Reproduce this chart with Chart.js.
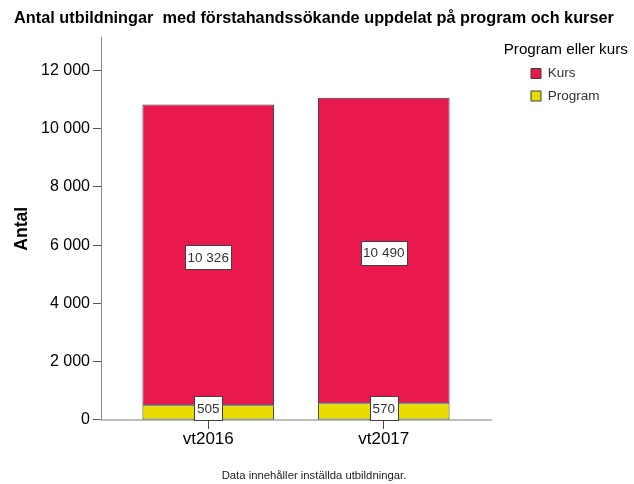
<!DOCTYPE html>
<html><head><meta charset="utf-8">
<script src="https://cdn.jsdelivr.net/npm/chart.js@4.4.1/dist/chart.umd.min.js"></script>
<style>html,body{margin:0;padding:0;background:#fff;} #wrap{width:634px;height:484px;}</style>
</head><body><div id="wrap"><canvas id="c" width="634" height="484"></canvas></div>
<script>
const categories = ['vt2016', 'vt2017'];
const kurs = [10326, 10490];
const program = [505, 570];
const yTicks = [0, 2000, 4000, 6000, 8000, 10000, 12000];
const seriesNames = ['Kurs', 'Program'];
const chartTitle = 'Antal utbildningar  med förstahandssökande uppdelat på program och kurser';
const legendTitle = 'Program eller kurs';
const yTitle = 'Antal';
const footnote = 'Data innehåller inställda utbildningar.';

const fmt = v => String(v).replace(/\B(?=(\d{3})+(?!\d))/g, ' ');
const FONT = "'Liberation Sans', Arial, sans-serif";
Chart.defaults.font.family = FONT;
Chart.defaults.color = '#000';

const legendPlace = {
  id: 'legendPlace',
  afterLayout(chart) {
    const lg = chart.legend, a = chart.chartArea;
    lg.left = a.right + 31;
    lg.right = lg.left + lg.width;
    lg.top = a.top;
    if (!lg.__noclip) {
      // draw without clipping so the (wider) legend title is not cut off
      lg.draw = function () { if (this.options.display) this._draw(); };
      lg.__noclip = true;
    }
  }
};

const valueLabels = {
  id: 'valueLabels',
  afterDatasetsDraw(chart) {
    const ctx = chart.ctx, bottom = chart.chartArea.bottom;
    ctx.save();
    ctx.font = "13.5px " + FONT;
    ctx.textAlign = 'center';
    ctx.textBaseline = 'middle';
    chart.data.datasets.forEach((ds, di) => {
      const meta = chart.getDatasetMeta(di);
      meta.data.forEach((el, i) => {
        const txt = fmt(ds.data[i].y);
        const w = Math.round(ctx.measureText(txt).width + 5), h = 24;
        let cy = (el.y + el.base) / 2 + 2;
        if (cy + h / 2 > bottom) cy = bottom - h / 2;
        const x0 = Math.round(el.x - w / 2) + 0.5, y0 = Math.round(cy - h / 2) + 0.5;
        ctx.fillStyle = '#fff';
        ctx.fillRect(x0, y0, w, h);
        ctx.strokeStyle = '#404040';
        ctx.lineWidth = 1;
        ctx.strokeRect(x0, y0, w, h);
        ctx.fillStyle = '#333';
        ctx.fillText(txt, el.x, cy + 1);
      });
    });
    ctx.restore();
  }
};

const barCommon = { borderColor: '#3c3c3c', borderWidth: 1, borderSkipped: false, categoryPercentage: 0.75, barPercentage: 1 };

new Chart(document.getElementById('c'), {
  type: 'bar',
  data: {
    datasets: [
      Object.assign({ label: seriesNames[1], data: program.map((y, i) => ({ x: i, y })), backgroundColor: '#e9dc00' }, barCommon),
      Object.assign({ label: seriesNames[0], data: kurs.map((y, i) => ({ x: i, y })), backgroundColor: '#e9184d' }, barCommon)
    ]
  },
  options: {
    responsive: false,
    animation: false,
    devicePixelRatio: 1,
    layout: { padding: { left: 0, right: 6, top: 0, bottom: 0 } },
    scales: {
      x: {
        type: 'linear', min: -0.611, max: 1.611, stacked: true, offset: false,
        afterBuildTicks: s => { s.ticks = categories.map((c, i) => ({ value: i })); },
        afterFit: s => { s.height = 34; },
        ticks: { callback: v => categories[v] ?? '', font: { size: 17 }, padding: 0, maxRotation: 0, autoSkip: false, color: '#000' },
        grid: { offset: false, drawOnChartArea: false, drawTicks: true, tickLength: 9, color: '#444' },
        border: { color: '#bdbdbd', width: 2 }
      },
      y: {
        stacked: true, min: 0, max: 13130,
        afterBuildTicks: s => { s.ticks = yTicks.map(v => ({ value: v })); },
        afterFit: s => { s.width = 101; },
        ticks: { callback: v => fmt(v), font: { size: 16 }, padding: 3, color: '#000' },
        grid: { drawOnChartArea: false, drawTicks: true, tickLength: 8, color: '#555' },
        border: { color: '#8a8a8a', width: 1 },
        title: { display: true, text: yTitle, font: { size: 17.6, weight: 'bold' }, padding: { top: 12, bottom: 0 }, color: '#000' }
      },
      y2: {
        position: 'right', display: true,
        grid: { display: false }, border: { display: false }, ticks: { display: false },
        afterFit: s => { s.width = 137; }
      }
    },
    plugins: {
      title: { display: true, text: chartTitle, font: { size: 16.3, weight: 'bold' }, padding: { top: 9, bottom: 9 }, color: '#000' },
      subtitle: { display: true, position: 'bottom', text: footnote, font: { size: 11.3 }, color: '#222', padding: { top: 15, bottom: 1.5 } },
      legend: {
        position: 'chartArea', align: 'start', reverse: true,
        labels: { boxWidth: 10, boxHeight: 10, padding: 9, font: { size: 13.5 }, color: '#333' },
        title: { display: true, text: legendTitle, font: { size: 15.2, lineHeight: 1 }, padding: { top: 5, bottom: 0 }, color: '#000', position: 'center' }
      },
      tooltip: { enabled: false }
    }
  },
  plugins: [legendPlace, valueLabels]
});
</script>
</body></html>
